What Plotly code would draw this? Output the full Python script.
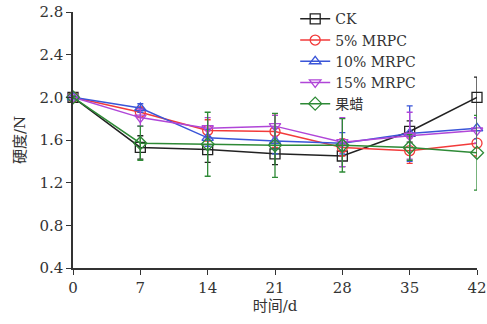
import plotly.graph_objects as go

days = [0, 7, 14, 21, 28, 35, 42]
series_names = ["CK", "5% MRPC", "10% MRPC", "15% MRPC", "果蜡"]
ck = [2.00, 1.53, 1.51, 1.47, 1.45, 1.68, 2.00]
mrpc5 = [2.00, 1.86, 1.69, 1.68, 1.53, 1.50, 1.57]
mrpc10 = [2.00, 1.90, 1.62, 1.59, 1.57, 1.66, 1.71]
mrpc15 = [2.00, 1.81, 1.71, 1.73, 1.58, 1.64, 1.69]
wax = [2.00, 1.57, 1.56, 1.55, 1.55, 1.53, 1.48]
ck_err = [0.01, 0.11, 0.12, 0.10, 0.10, 0.10, 0.19]
mrpc5_err = [0.01, 0.05, 0.10, 0.15, 0.08, 0.12, 0.12]
mrpc10_err = [0.01, 0.04, 0.08, 0.12, 0.10, 0.26, 0.10]
mrpc15_err = [0.01, 0.08, 0.10, 0.10, 0.23, 0.22, 0.12]
wax_err = [0.01, 0.16, 0.30, 0.30, 0.25, 0.12, 0.35]
y_ticks = [0.4, 0.8, 1.2, 1.6, 2.0, 2.4, 2.8]

values = [ck, mrpc5, mrpc10, mrpc15, wax]
errors = [ck_err, mrpc5_err, mrpc10_err, mrpc15_err, wax_err]
colors = ["#222222", "#f23a3a", "#3a55d8", "#b046d8", "#2e8a36"]
symbols = ["square-open", "circle-open", "triangle-up-open", "triangle-down-open", "diamond-open"]

fig = go.Figure()
for name, v, e, c, s in zip(series_names, values, errors, colors, symbols):
    fig.add_trace(go.Scatter(
        x=days, y=v, name=name, mode="lines+markers",
        line=dict(color=c, width=1.5),
        marker=dict(symbol=s, size=10, color=c, line=dict(color=c, width=1.3)),
        error_y=dict(type="data", array=e, visible=True, color=c, thickness=1.3, width=3),
        cliponaxis=False,
    ))

font_fam = "DejaVu Serif, Noto Sans CJK SC, serif"
fig.update_layout(
    width=487, height=324,
    margin=dict(l=73, r=10, t=12, b=56, autoexpand=False),
    paper_bgcolor="white", plot_bgcolor="white",
    font=dict(family=font_fam, size=15, color="#333333"),
    showlegend=True,
    legend=dict(x=0.55, y=0.99, xref="paper", yref="container", xanchor="left", yanchor="top",
                bgcolor="rgba(0,0,0,0)", font=dict(family=font_fam, size=14, color="#333333"),
                tracegroupgap=0, itemwidth=30),
    xaxis=dict(range=[0, 42], tickvals=days, ticktext=[str(d) for d in days],
               showline=True, linecolor="#333333", linewidth=1.5, automargin=False,
               ticks="outside", ticklen=5, tickcolor="#333333", showgrid=False, zeroline=False,
               title=dict(text="时间/d", font=dict(family=font_fam, size=15), standoff=4)),
    yaxis=dict(range=[0.4, 2.8], tickvals=y_ticks, ticktext=["%.1f" % t for t in y_ticks],
               showline=True, linecolor="#333333", linewidth=1.5, automargin=False,
               ticks="outside", ticklen=5, tickcolor="#333333", showgrid=False, zeroline=False,
               title=dict(text="硬度/N", font=dict(family=font_fam, size=15), standoff=10)),
)
fig.write_html("out.html", config={"displayModeBar": False},
               post_script="document.body.style.margin='0';")
